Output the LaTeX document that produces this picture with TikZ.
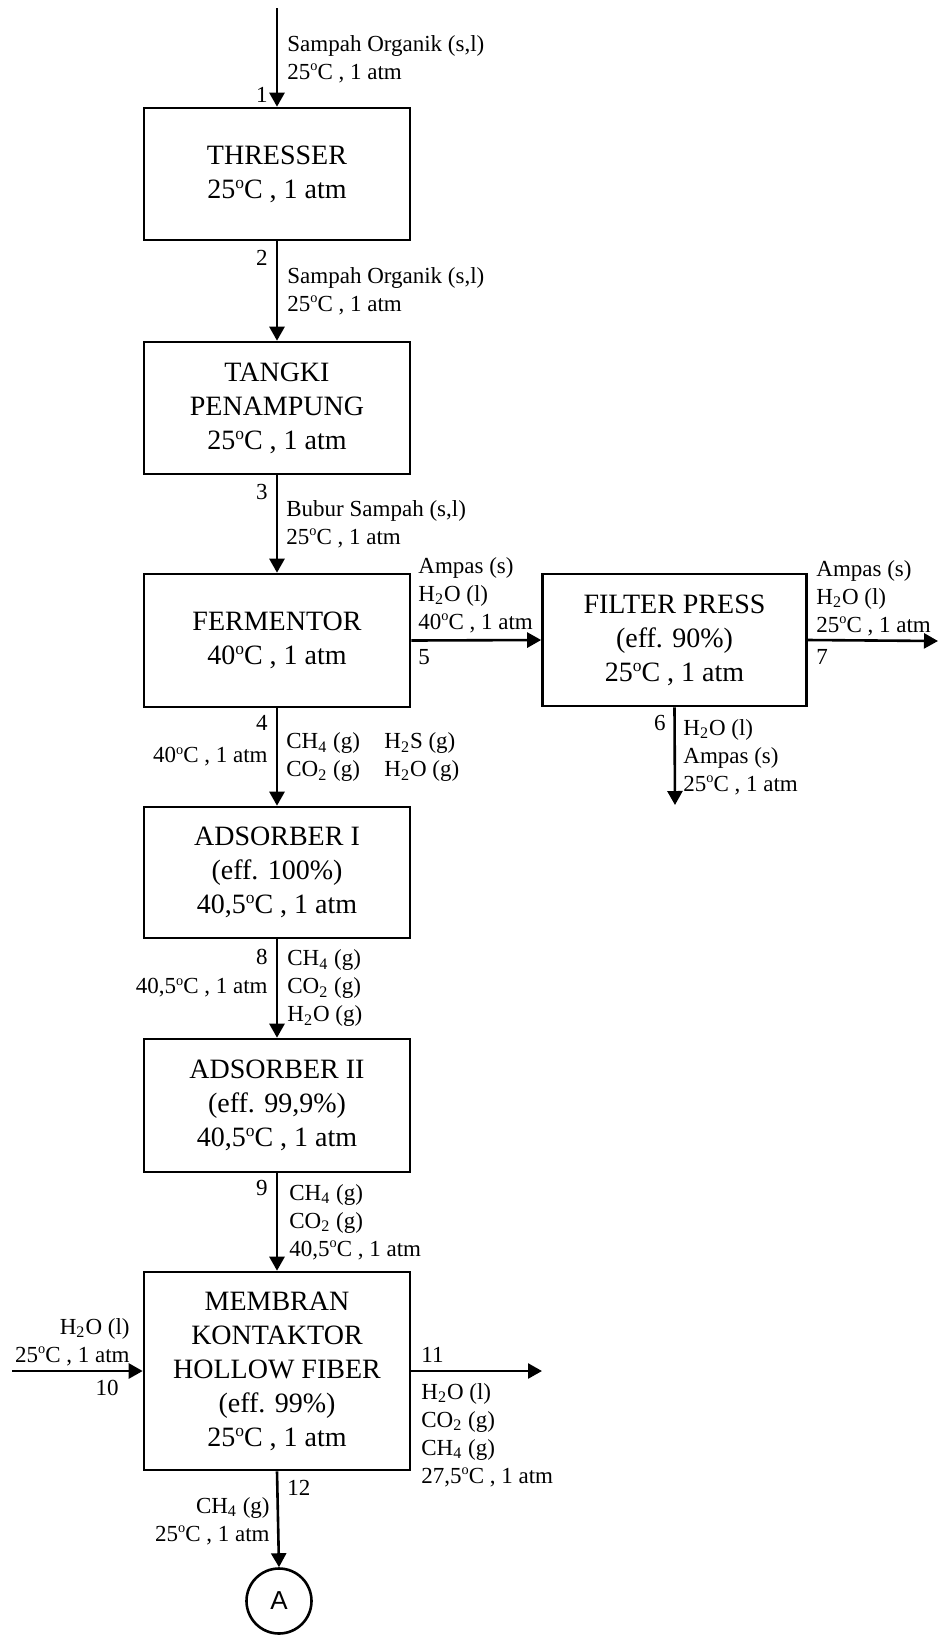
\documentclass[tikz,border=0pt]{standalone}
\usepackage{fontspec}
\setmainfont{Liberation Serif}
\newfontfamily\arialfont{Liberation Sans}
\usetikzlibrary{arrows.meta}
\newcommand\myDeg{\raisebox{0.36em}{\scalebox{0.62}{o}}C}
\newcommand\subs[1]{\textsubscript{#1}}
\begin{document}
\begin{tikzpicture}[x=0.5pt,y=-0.5pt,
  unit/.style={draw, line width=1.3pt, minimum width=133pt, align=center, font=\fontsize{14}{17}\selectfont, inner sep=0pt},
  lbl/.style={font=\fontsize{11.5}{14}\selectfont, inner sep=0pt, align=left},
  lblr/.style={lbl, align=right},
  flow/.style={line width=1.3pt, -{Triangle[width=7.5pt,length=7pt]}}]
\useasboundingbox (0,0) rectangle (939,1635);

% units
\node[unit, minimum height=66pt] (thr) at (277,174) {THRESSER\\25\myDeg{} , 1 atm};
\node[unit, minimum height=66pt] (tan) at (277,408) {TANGKI\\PENAMPUNG\\25\myDeg{} , 1 atm};
\node[unit, minimum height=66.5pt] (fer) at (277,640.5) {FERMENTOR\\40\myDeg{} , 1 atm};
\node[unit, minimum height=66pt, minimum width=132pt] (fil) at (674.5,640) {FILTER PRESS\\(eff. 90\%)\\25\myDeg{} , 1 atm};
\node[unit, minimum height=65.5pt] (ad1) at (277,872.5) {ADSORBER I\\(eff. 100\%)\\40,5\myDeg{} , 1 atm};
\node[unit, minimum height=66.5pt] (ad2) at (277,1105.5) {ADSORBER II\\(eff. 99,9\%)\\40,5\myDeg{} , 1 atm};
\node[unit, minimum height=99pt] (mem) at (277,1371) {MEMBRAN\\KONTAKTOR\\HOLLOW FIBER\\(eff. 99\%)\\25\myDeg{} , 1 atm};
\node[draw, circle, line width=1.3pt, minimum size=32.5pt, inner sep=0pt, font=\arialfont\fontsize{13}{15}\selectfont] (A) at (279,1601) {A};

% free ends
\coordinate (s1) at (277,8);
\coordinate (e7) at (938,641);
\coordinate (e6) at (675,805);
\coordinate (s10) at (12,1371);
\coordinate (e11) at (542,1371);

% connectors
\draw[flow] (s1) -- (thr.north);
\draw[flow] (thr.south) -- (tan.north);
\draw[flow] (tan.south) -- (fer.north);
\draw[flow] (fer.east) -- (fil.west);
\draw[flow] (fil.east) -- (e7);
\draw[flow] (fil.south) -- (e6);
\draw[flow] (fer.south) -- (ad1.north);
\draw[flow] (ad1.south) -- (ad2.north);
\draw[flow] (ad2.south) -- (mem.north);
\draw[flow] (s10) -- (mem.west);
\draw[flow] (mem.east) -- (e11);
\draw[flow] (mem.south) -- (A.north);

% labels
\node[lbl, anchor=west] (l1) at (287,59) {Sampah Organik (s,l)\\25\myDeg{} , 1 atm};
\node[lbl, anchor=east] (n1) at (268,95) {1};
\node[lbl, anchor=east] (n2) at (268,258) {2};
\node[lbl, anchor=west] (l2) at (287,291) {Sampah Organik (s,l)\\25\myDeg{} , 1 atm};
\node[lbl, anchor=east] (n3) at (268,492) {3};
\node[lbl, anchor=west] (l3) at (286,524) {Bubur Sampah (s,l)\\25\myDeg{} , 1 atm};
\node[lbl, anchor=west] (l5) at (418,595) {Ampas (s)\\H\subs{2}O (l)\\40\myDeg{} , 1 atm};
\node[lbl, anchor=west] (n5) at (418,657) {5};
\node[lbl, anchor=west] (l7) at (816,598) {Ampas (s)\\H\subs{2}O (l)\\25\myDeg{} , 1 atm};
\node[lbl, anchor=west] (n7) at (816,657) {7};
\node[lbl, anchor=east] (n6) at (666,723) {6};
\node[lbl, anchor=west] (l6) at (683,757) {H\subs{2}O (l)\\Ampas (s)\\25\myDeg{} , 1 atm};
\node[lbl, anchor=east] (n4) at (268,723) {4};
\node[lblr, anchor=east] (t4) at (268,757) {40\myDeg{} , 1 atm};
\node[lbl, anchor=west] (l4a) at (286,757) {CH\subs{4} (g)\\CO\subs{2} (g)};
\node[lbl, anchor=west] (l4b) at (384,757) {H\subs{2}S (g)\\H\subs{2}O (g)};
\node[lbl, anchor=east] (n8) at (268,957) {8};
\node[lblr, anchor=east] (t8) at (268,988) {40,5\myDeg{} , 1 atm};
\node[lbl, anchor=west] (l8) at (287,988) {CH\subs{4} (g)\\CO\subs{2} (g)\\H\subs{2}O (g)};
\node[lbl, anchor=east] (n9) at (268,1188) {9};
\node[lbl, anchor=west] (l9) at (289,1222) {CH\subs{4} (g)\\CO\subs{2} (g)\\40,5\myDeg{} , 1 atm};
\node[lblr, anchor=east] (l10) at (130,1342) {H\subs{2}O (l)\\25\myDeg{} , 1 atm};
\node[lbl, anchor=east] (n10) at (119,1388) {10};
\node[lbl, anchor=west] (n11) at (421,1355) {11};
\node[lbl, anchor=west] (l11) at (421,1435) {H\subs{2}O (l)\\CO\subs{2} (g)\\CH\subs{4} (g)\\27,5\myDeg{} , 1 atm};
\node[lbl, anchor=west] (n12) at (287,1488) {12};
\node[lblr, anchor=east] (l12) at (270,1521) {CH\subs{4} (g)\\25\myDeg{} , 1 atm};
\end{tikzpicture}
\end{document}
